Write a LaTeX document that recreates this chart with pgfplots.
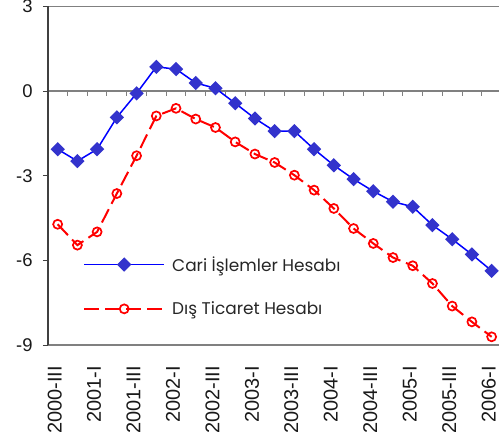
\documentclass[border=0pt]{standalone}
\usepackage{fontspec}
\setmainfont{Liberation Sans}
\newfontfamily\legfont{Poppins}
\usepackage{pgfplots}
\pgfplotsset{compat=1.18}
\definecolor{blueline}{HTML}{0000FF}
\definecolor{bluemark}{HTML}{3333CC}
\definecolor{axgray}{HTML}{808080}
\definecolor{axdark}{HTML}{404040}
\definecolor{redline}{HTML}{FF0000}
\begin{document}
\begin{tikzpicture}
\begin{axis}[
 at={(47.8bp,95bp)}, anchor=south west,
 scale only axis, width=453.7bp, height=338.5bp,
 xmin=-0.5, xmax=22.5, ymin=-9, ymax=3,
 axis line style={draw=none},
 xtick={0,2,...,22},
 xticklabels={2000-III,2001-I,2001-III,2002-I,2002-III,2003-I,2003-III,2004-I,2004-III,2005-I,2005-III,2006-I},
 x tick style={draw=none},
 xtick pos=bottom,
 xticklabel style={xshift=-3bp, rotate=90, anchor=east, inner sep=0pt, font=\fontsize{20}{20}\selectfont, text=black!90},
 xticklabel shift=16bp,
 ytick={-9,-6,-3,0,3},
 ytick pos=left, tick align=outside, major tick length=5bp,
 y tick style={draw=axdark, line width=1bp},
 yticklabel style={inner sep=0pt, xshift=-10bp, font=\fontsize{18.5}{18.5}\selectfont, text=black!90},
 /pgf/number format/assume math mode=true,
 clip=false,
 legend image code/.code={\draw[mark repeat=2,mark phase=2,#1] plot coordinates {(0bp,0bp) (40bp,0bp) (80bp,0bp)};},
 legend style={at={(axis description cs:0.0776,0.262)}, anchor=north west, draw=none, fill=none,
   inner sep=0pt, font=\legfont\fontsize{17}{17}\selectfont, text=black!85,
   nodes={inner sep=0pt, anchor=west}, column sep=7bp, row sep=29bp},
 legend cell align=left,
]
\draw[axgray, line width=1.5bp] (rel axis cs:0,1) -- (rel axis cs:1,1);
\draw[axgray, line width=1.5bp] (rel axis cs:0,0) -- (rel axis cs:1,0);
\draw[axgray, line width=1.5bp] (axis cs:-0.5,0) -- (axis cs:22.5,0);
\pgfplotsinvokeforeach{-0.5,0.5,...,22.5}{\draw[axgray, line width=1bp] (axis cs:#1,0) -- ++(0bp,-5bp);}
\draw[axdark, line width=2bp] (rel axis cs:0,0) -- (rel axis cs:0,1);

\addplot[blueline, line width=1.5bp, mark=square*, mark size=4.3bp,
  mark options={rotate=45, fill=bluemark, draw=bluemark, solid}]
coordinates {
(0,-2.06) (1,-2.48) (2,-2.06) (3,-0.93) (4,-0.08) (5,0.86) (6,0.78) (7,0.29)
(8,0.10) (9,-0.43) (10,-0.97) (11,-1.42) (12,-1.42) (13,-2.06) (14,-2.63)
(15,-3.12) (16,-3.55) (17,-3.92) (18,-4.10) (19,-4.75) (20,-5.25) (21,-5.79) (22,-6.37)
};
\addlegendentry{Cari İşlemler Hesabı}

\addplot[redline, line width=2bp, dash pattern=on 15bp off 6bp, mark=o, mark size=4.5bp,
  mark options={solid, fill=white, draw=redline, line width=1.7bp}]
coordinates {
(0,-4.72) (1,-5.46) (2,-4.99) (3,-3.63) (4,-2.29) (5,-0.88) (6,-0.61) (7,-0.99)
(8,-1.29) (9,-1.80) (10,-2.23) (11,-2.53) (12,-2.98) (13,-3.51) (14,-4.16)
(15,-4.87) (16,-5.40) (17,-5.90) (18,-6.19) (19,-6.82) (20,-7.62) (21,-8.18) (22,-8.71)
};
\addlegendentry{Dış Ticaret Hesabı}
\end{axis}
\pgfresetboundingbox
\useasboundingbox (0,0) rectangle (499bp,440bp);
\end{tikzpicture}
\end{document}
